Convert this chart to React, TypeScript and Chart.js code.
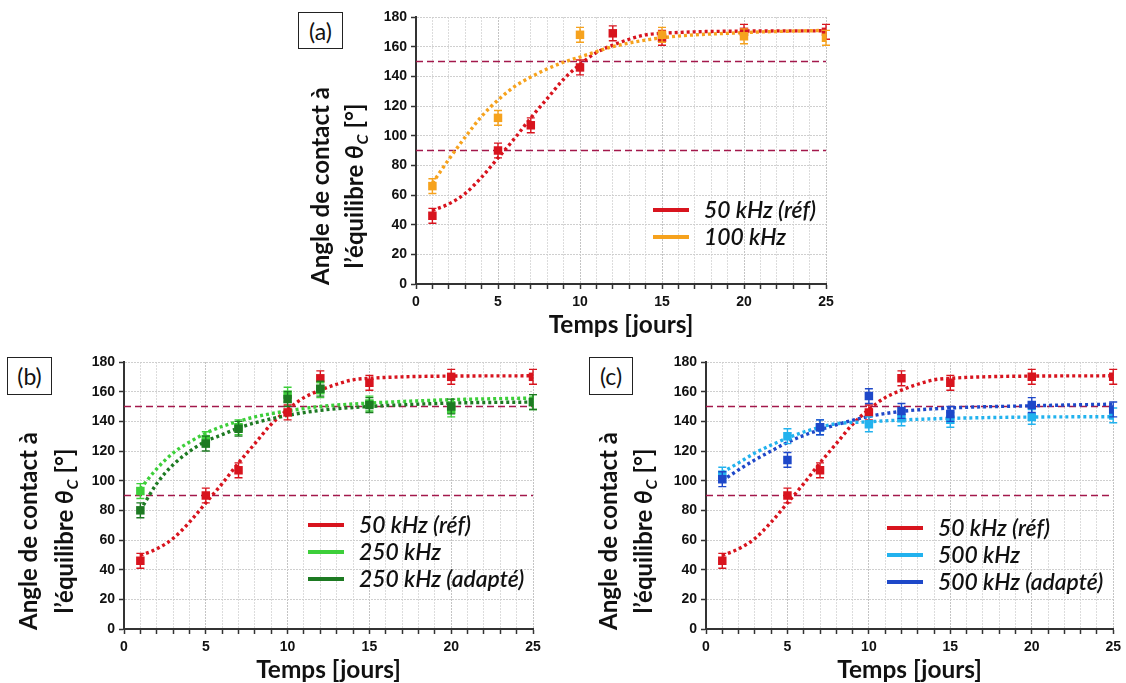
import React, { useEffect, useRef } from 'react';
import { Chart, registerables } from 'chart.js';

Chart.register(...registerables);

// ---------------- data ----------------
const DAYS = [1, 5, 7, 10, 12, 15, 20, 25];
const DAYS_100 = [1, 5, 10, 15, 20, 25];

const REF_50 = [46, 90, 107, 146, 169, 166, 170, 170];
const KHZ_100 = [66, 112, 168, 168, 167, 166];
const KHZ_250 = [93, 128, 136, 158, 161, 152, 148, 153];
const KHZ_250_ADAPT = [80, 125, 135, 155, 162, 151, 150, 153];
const KHZ_500 = [104, 130, 136, 138, 142, 141, 143, 144];
const KHZ_500_ADAPT = [101, 114, 136, 157, 147, 145, 151, 148];

const ERR_REF_50 = [5, 5, 5, 5, 5, 5, 5, 5];
const ERR_100 = [5, 5, 5, 5, 5, 5];
const ERR_250 = [5, 5, 5, 5, 5, 5, 5, 5];
const ERR_250_ADAPT = [5, 5, 5, 5, 5, 5, 5, 5];
const ERR_500 = [5, 5, 5, 5, 5, 5, 5, 5];
const ERR_500_ADAPT = [5, 5, 5, 5, 5, 5, 5, 5];

// fitted curves
const FIT_X_REF = [1, 2, 3, 4, 5, 6, 7, 8, 9, 10, 11, 12, 13, 14, 15, 17, 20, 25];
const FIT_REF_50 = [49.5, 54, 61, 72, 85, 98, 112, 125, 138, 148, 156, 161, 165, 168, 169, 170, 170.5, 170.7];
const FIT_X_100 = [1, 2, 3, 4, 5, 6, 7, 8, 9, 10, 12, 15, 20, 25];
const FIT_100 = [68, 84, 99, 113, 124, 133, 139.5, 145, 149.5, 153, 160, 166, 169.5, 171];
const FIT_X_OTHER = [1, 2, 3, 4, 5, 6, 7, 8, 10, 12, 15, 20, 25];
const FIT_250 = [94.5, 108, 118.6, 126, 132, 136.6, 140, 143, 147, 150, 152.3, 154.6, 155.7];
const FIT_250_ADAPT = [80, 98, 110.7, 119.7, 126.5, 131, 135.5, 139, 144, 147.4, 150, 152.3, 153];
const FIT_500 = [105.5, 112, 118.6, 124, 128.7, 132.8, 136, 138.4, 139.7, 140.9, 142, 142.9, 143.1];
const FIT_500_ADAPT = [100, 107.3, 114, 120, 125.8, 130.5, 134.3, 137.7, 143.3, 146.7, 149, 150.5, 151.6];

const THRESHOLDS = [90, 150];
const X_MIN = 0;
const X_MAX = 25;
const Y_MIN = 0;
const Y_MAX = 180;
const Y_STEP = 20;

const LABEL_REF = '50 kHz (réf)';
const LABEL_100 = '100 kHz';
const LABEL_250 = '250 kHz';
const LABEL_250_ADAPT = '250 kHz (adapté)';
const LABEL_500 = '500 kHz';
const LABEL_500_ADAPT = '500 kHz (adapté)';

const X_TITLE = 'Temps [jours]';
const Y_TITLE_1 = 'Angle de contact à';
const Y_TITLE_2 = 'l’équilibre ';
const Y_THETA = 'θ';
const Y_SUB = 'C';
const Y_UNIT = ' [°]';

// ---------------- styles ----------------
const RED = '#d8141e';
const ORANGE = '#f6a21d';
const LGREEN = '#3dcf3a';
const DGREEN = '#1d7a22';
const LBLUE = '#22b2ee';
const BLUE = '#1e48c9';
const THRESH = '#a3184b';
const AXIS = '#333333';
const TICK_FONT = { family: '"Liberation Sans", Arial, sans-serif', size: 14, weight: 'bold' as const };
const TITLE_FAMILY = 'Lato, "Open Sans", sans-serif';

type Series = {
  label: string;
  color: string;
  days: number[];
  values: number[];
  err: number[];
  fitX: number[];
  fitY: number[];
};

const SERIES_REF: Series = { label: LABEL_REF, color: RED, days: DAYS, values: REF_50, err: ERR_REF_50, fitX: FIT_X_REF, fitY: FIT_REF_50 };
const SERIES_100: Series = { label: LABEL_100, color: ORANGE, days: DAYS_100, values: KHZ_100, err: ERR_100, fitX: FIT_X_100, fitY: FIT_100 };
const SERIES_250: Series = { label: LABEL_250, color: LGREEN, days: DAYS, values: KHZ_250, err: ERR_250, fitX: FIT_X_OTHER, fitY: FIT_250 };
const SERIES_250A: Series = { label: LABEL_250_ADAPT, color: DGREEN, days: DAYS, values: KHZ_250_ADAPT, err: ERR_250_ADAPT, fitX: FIT_X_OTHER, fitY: FIT_250_ADAPT };
const SERIES_500: Series = { label: LABEL_500, color: LBLUE, days: DAYS, values: KHZ_500, err: ERR_500, fitX: FIT_X_OTHER, fitY: FIT_500 };
const SERIES_500A: Series = { label: LABEL_500_ADAPT, color: BLUE, days: DAYS, values: KHZ_500_ADAPT, err: ERR_500_ADAPT, fitX: FIT_X_OTHER, fitY: FIT_500_ADAPT };

// ---------------- plugins ----------------
const errorBarPlugin = {
  id: 'errorBars',
  beforeDatasetDraw(chart: any, args: any) {
    const ds = chart.data.datasets[args.index];
    if (!ds.errorBars) return;
    const ctx = chart.ctx;
    const ys = chart.scales.y;
    ctx.save();
    ctx.strokeStyle = ds.borderColor;
    ctx.lineWidth = 1.4;
    args.meta.data.forEach((pt: any, i: number) => {
      const v = ds.data[i].y;
      const e = ds.errorBars[i];
      const yt = ys.getPixelForValue(v + e);
      const yb = ys.getPixelForValue(v - e);
      ctx.beginPath();
      ctx.moveTo(pt.x, yt);
      ctx.lineTo(pt.x, yb);
      ctx.moveTo(pt.x - 4, yt);
      ctx.lineTo(pt.x + 4, yt);
      ctx.moveTo(pt.x - 4, yb);
      ctx.lineTo(pt.x + 4, yb);
      ctx.stroke();
    });
    ctx.restore();
  },
};

const fitSize = (ctx: any, font: (s: number) => string, txt: string, target: number) => {
  ctx.font = font(22);
  const m = ctx.measureText(txt).width;
  return Math.round(((22 * target) / m) * 10) / 10;
};

const decorPlugin = {
  id: 'decor',
  afterDraw(chart: any, _args: any, opts: any) {
    const ctx = chart.ctx;
    const ca = chart.chartArea;
    ctx.save();
    ctx.fillStyle = '#111';

    // x title
    const boldF = (s: number) => `bold ${s}px ${TITLE_FAMILY}`;
    const xs = fitSize(ctx, boldF, X_TITLE, opts.xTitleWidth);
    ctx.font = boldF(xs);
    ctx.textAlign = 'center';
    ctx.textBaseline = 'middle';
    ctx.fillText(X_TITLE, (ca.left + ca.right) / 2, ca.bottom + opts.xTitleDy);

    // y title (two rotated lines)
    const ys = fitSize(ctx, boldF, Y_TITLE_1, opts.yTitleWidth);
    const cy = ca.top + opts.yTitleDy;
    ctx.save();
    ctx.translate(ca.left + opts.yLine1Dx, cy);
    ctx.rotate(-Math.PI / 2);
    ctx.font = boldF(ys);
    ctx.textAlign = 'center';
    ctx.textBaseline = 'middle';
    ctx.fillText(Y_TITLE_1, 0, 0);
    ctx.restore();

    ctx.save();
    ctx.translate(ca.left + opts.yLine2Dx, cy);
    ctx.rotate(-Math.PI / 2);
    ctx.textAlign = 'left';
    ctx.textBaseline = 'alphabetic';
    const fMain = boldF(ys);
    const fTheta = `italic bold ${ys}px ${TITLE_FAMILY}`;
    const fSub = `italic bold ${Math.round(ys * 0.68)}px ${TITLE_FAMILY}`;
    ctx.font = fMain;
    const w1 = ctx.measureText(Y_TITLE_2).width;
    const w4 = ctx.measureText(Y_UNIT).width;
    ctx.font = fTheta;
    const w2 = ctx.measureText(Y_THETA).width;
    ctx.font = fSub;
    const w3 = ctx.measureText(Y_SUB).width;
    let x = -(w1 + w2 + w3 + w4 + 1) / 2;
    const base = ys * 0.36;
    ctx.font = fMain;
    ctx.fillText(Y_TITLE_2, x, base);
    x += w1;
    ctx.font = fTheta;
    ctx.fillText(Y_THETA, x, base);
    x += w2 + 1;
    ctx.font = fSub;
    ctx.fillText(Y_SUB, x, base + ys * 0.22);
    x += w3;
    ctx.font = fMain;
    ctx.fillText(Y_UNIT, x, base);
    ctx.restore();

    // legend
    const lg = opts.legend;
    const legF = (s: number) => `italic 600 ${s}px ${TITLE_FAMILY}`;
    const ls = fitSize(ctx, legF, LABEL_REF, lg.refWidth);
    let ly = ca.top + lg.dy;
    ctx.font = legF(ls);
    ctx.textAlign = 'left';
    ctx.textBaseline = 'middle';
    lg.items.forEach((it: any) => {
      const lx = ca.left + lg.dx;
      ctx.strokeStyle = it.color;
      ctx.lineWidth = 4;
      ctx.beginPath();
      ctx.moveTo(lx, ly);
      ctx.lineTo(lx + lg.lineLen, ly);
      ctx.stroke();
      ctx.fillStyle = '#111';
      ctx.fillText(it.label, lx + lg.textDx, ly + 1);
      ly += lg.spacing;
    });
    ctx.restore();
  },
};

// ---------------- chart panel ----------------
type PanelProps = {
  left: number;
  top: number;
  width: number;
  height: number;
  yAxisWidth: number;
  padTop: number;
  padRight: number;
  xAxisHeight: number;
  series: Series[];
  legendDx: number;
  legendDy: number;
  yLine1Dx: number;
  yLine2Dx: number;
};

function Panel(p: PanelProps) {
  const ref = useRef<HTMLCanvasElement | null>(null);
  useEffect(() => {
    if (!ref.current) return;
    const datasets: any[] = [];
    THRESHOLDS.forEach((t) => {
      datasets.push({
        type: 'line',
        data: [
          { x: X_MIN, y: t },
          { x: X_MAX, y: t },
        ],
        borderColor: THRESH,
        borderWidth: 1.6,
        borderDash: [7, 4],
        pointRadius: 0,
        fill: false,
        order: 30,
      });
    });
    p.series.forEach((s, si) => {
      datasets.push({
        type: 'line',
        label: s.label + ' fit',
        data: s.fitX.map((x, i) => ({ x, y: s.fitY[i] })),
        borderColor: s.color,
        borderWidth: 3.4,
        borderDash: [3, 3],
        borderCapStyle: 'butt',
        pointRadius: 0,
        fill: false,
        cubicInterpolationMode: 'monotone',
        order: 20 - si,
      });
    });
    p.series.forEach((s, si) => {
      datasets.push({
        type: 'scatter',
        label: s.label,
        data: s.days.map((x, i) => ({ x, y: s.values[i] })),
        backgroundColor: s.color,
        borderColor: s.color,
        pointStyle: 'rect',
        pointRadius: 6,
        borderWidth: 0,
        errorBars: s.err,
        order: 10 - si,
      });
    });

    const chart = new Chart(ref.current, {
      type: 'scatter',
      data: { datasets },
      plugins: [errorBarPlugin, decorPlugin],
      options: {
        animation: false,
        responsive: false,
        events: [],
        layout: { padding: { left: 0, top: p.padTop, right: p.padRight, bottom: 0 } },
        plugins: {
          legend: { display: false },
          tooltip: { enabled: false },
          decor: {
            xTitleWidth: 145,
            xTitleDy: 41,
            yTitleWidth: 198,
            yTitleDy: 169,
            yLine1Dx: p.yLine1Dx,
            yLine2Dx: p.yLine2Dx,
            legend: {
              dx: p.legendDx,
              dy: p.legendDy,
              spacing: 27,
              lineLen: 36,
              textDx: 51,
              refWidth: 112,
              items: p.series.map((s) => ({ label: s.label, color: s.color })),
            },
          },
        } as any,
        scales: {
          x: {
            type: 'linear',
            min: X_MIN,
            max: X_MAX,
            afterFit: (sc: any) => {
              sc.height = p.xAxisHeight;
            },
            ticks: {
              stepSize: 1,
              autoSkip: false,
              maxRotation: 0,
              padding: 5,
              color: '#111',
              font: TICK_FONT,
              callback: (v: any) => (Number(v) % 5 === 0 ? String(v) : ''),
            },
            grid: {
              color: (c: any) => (c.tick && c.tick.value % 5 === 0 ? '#c4c4c4' : '#dcdcdc'),
              lineWidth: 1,
              tickLength: 5,
              tickColor: AXIS,
              tickWidth: 1.5,
            },
            border: { color: AXIS, width: 2, dash: [2, 1] },
          },
          y: {
            type: 'linear',
            min: Y_MIN,
            max: Y_MAX,
            afterFit: (sc: any) => {
              sc.width = p.yAxisWidth;
            },
            ticks: {
              stepSize: Y_STEP,
              padding: 4,
              color: '#111',
              font: TICK_FONT,
            },
            grid: {
              color: '#cfcfcf',
              lineWidth: 1,
              tickLength: 5,
              tickColor: AXIS,
              tickWidth: 1.5,
            },
            border: { color: AXIS, width: 2, dash: [2, 1] },
          },
        },
      } as any,
    });
    return () => chart.destroy();
  }, []);
  return (
    <canvas
      ref={ref}
      width={p.width}
      height={p.height}
      style={{ position: 'absolute', left: p.left, top: p.top, width: p.width, height: p.height }}
    />
  );
}

function LabelBox({ text, left, top, width, height }: { text: string; left: number; top: number; width: number; height: number }) {
  return (
    <div
      style={{
        position: 'absolute',
        left,
        top,
        width,
        height,
        boxSizing: 'border-box',
        border: '1.3px solid #222',
        display: 'flex',
        alignItems: 'center',
        justifyContent: 'center',
        fontFamily: TITLE_FAMILY,
        fontSize: 23,
        color: '#111',
        background: '#fff',
      }}
    >
      {text}
    </div>
  );
}

export default function App() {
  return (
    <div style={{ position: 'absolute', left: 0, top: 0, width: 1126, height: 683, background: '#fff', overflow: 'hidden' }}>
      <Panel
        left={280}
        top={0}
        width={560}
        height={345}
        yAxisWidth={136}
        padTop={17}
        padRight={14}
        xAxisHeight={61}
        series={[SERIES_REF, SERIES_100]}
        legendDx={237}
        legendDy={193}
        yLine1Dx={-95}
        yLine2Dx={-62}
      />
      <Panel
        left={0}
        top={345}
        width={560}
        height={338}
        yAxisWidth={124}
        padTop={17}
        padRight={27}
        xAxisHeight={54}
        series={[SERIES_REF, SERIES_250, SERIES_250A]}
        legendDx={184}
        legendDy={163}
        yLine1Dx={-95}
        yLine2Dx={-60}
      />
      <Panel
        left={566}
        top={345}
        width={560}
        height={338}
        yAxisWidth={140}
        padTop={17}
        padRight={10}
        xAxisHeight={54}
        series={[SERIES_REF, SERIES_500, SERIES_500A]}
        legendDx={181}
        legendDy={166}
        yLine1Dx={-97}
        yLine2Dx={-63}
      />
      <LabelBox text="(a)" left={298} top={12} width={45} height={37} />
      <LabelBox text="(b)" left={7} top={357} width={45} height={38} />
      <LabelBox text="(c)" left={589} top={357} width={44} height={38} />
    </div>
  );
}
